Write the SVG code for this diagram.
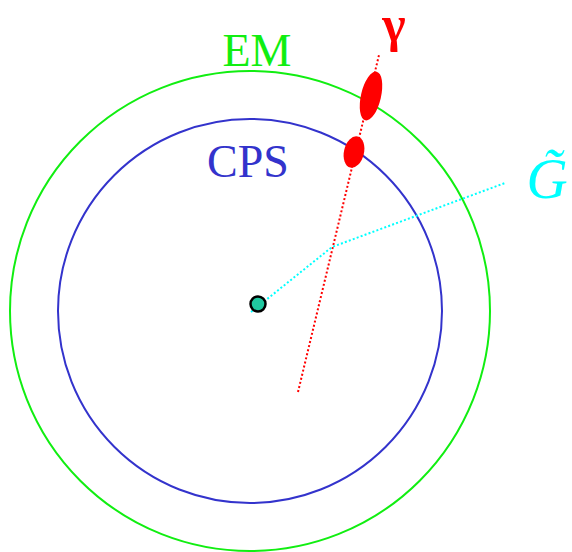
<svg xmlns="http://www.w3.org/2000/svg" width="572" height="552" viewBox="0 0 572 552">
<style>
.lbl{font-family:"Liberation Serif","Times New Roman",serif;}
.ring{fill:none;stroke-width:2}
.dot{fill:none;stroke-width:2;stroke-dasharray:2 2.2}
</style>
<rect width="572" height="552" fill="#fff"/>
<g id="em"><circle class="ring" cx="250" cy="311" r="240" stroke="#11ee11"/><text class="lbl" x="257" y="66" font-size="46" fill="#11ee11" text-anchor="middle">EM</text></g>
<g id="cps"><circle class="ring" cx="250" cy="311" r="192" stroke="#3333cc"/><text class="lbl" x="248" y="177" font-size="46" fill="#3333cc" text-anchor="middle">CPS</text></g>
<g id="connectors">
<line class="dot" x1="298" y1="392" x2="379" y2="55" stroke="#ff0000"/>
<polyline class="dot" points="251,312 332,247 505,183" stroke="#00ffff"/>
</g>
<g id="photon">
<ellipse cx="371" cy="96" rx="10" ry="25" transform="rotate(13 371 96)" fill="#ff0000"/>
<ellipse cx="354" cy="152" rx="10" ry="16" transform="rotate(13 354 152)" fill="#ff0000"/>
<text class="lbl" x="394" y="41" font-size="50" font-weight="bold" fill="#ff0000" text-anchor="middle">γ</text>
</g>
<g id="vertex"><circle cx="258" cy="304" r="7.5" fill="#20c8a0" stroke="#000" stroke-width="2.5"/></g>
<g id="gravitino"><text class="lbl" x="547" y="198" font-size="57" fill="#00ffff" font-style="italic" text-anchor="middle">G̃</text></g>
</svg>
